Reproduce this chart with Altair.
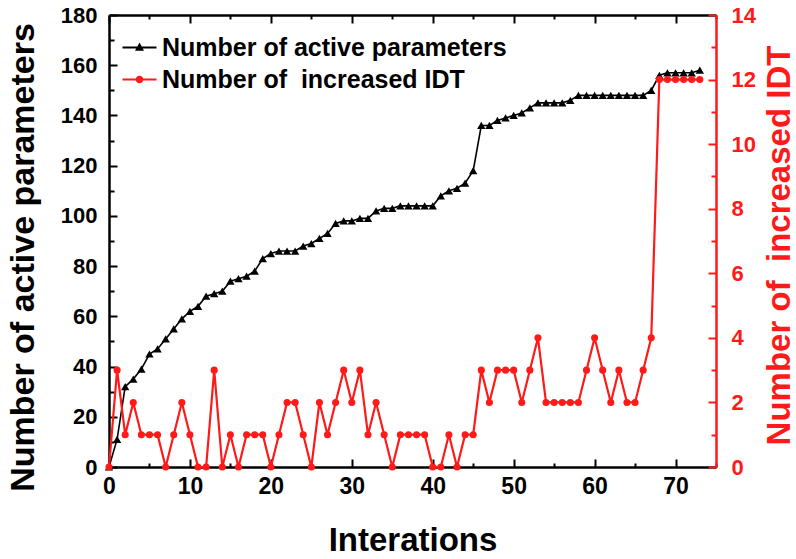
import altair as alt
import pandas as pd

iterations = list(range(74))
active_params = [0, 11, 32, 35, 39, 45, 47, 51, 55, 59, 62, 64, 68, 69, 70, 74, 75, 76, 78, 83,
                 85, 86, 86, 86, 88, 89, 91, 93, 97, 98, 98, 99, 99, 102, 103, 103, 104, 104, 104, 104,
                 104, 108, 110, 111, 113, 118, 136, 136, 138, 139, 140, 141, 143, 145, 145, 145, 145, 146, 148, 148,
                 148, 148, 148, 148, 148, 148, 148, 150, 156, 157, 157, 157, 157, 158]
increased_idt = [0, 3, 1, 2, 1, 1, 1, 0, 1, 2, 1, 0, 0, 3, 0, 1, 0, 1, 1, 1,
                 0, 1, 2, 2, 1, 0, 2, 1, 2, 3, 2, 3, 1, 2, 1, 0, 1, 1, 1, 1,
                 0, 0, 1, 0, 1, 1, 3, 2, 3, 3, 3, 2, 3, 4, 2, 2, 2, 2, 2, 3,
                 4, 3, 2, 3, 2, 2, 3, 4, 12, 12, 12, 12, 12, 12]
series_names = ["Number of active parameters", "Number of\u00a0 increased IDT"]
series_colors = ["black", "#ff1a1a"]

x_ticks = list(range(0, 80, 5))
left_ticks = list(range(0, 190, 10))
right_ticks = list(range(0, 15, 1))

df = pd.DataFrame({"iter": iterations, "active": active_params, "idt": increased_idt})

FONT = "Liberation Sans"
RED = series_colors[1]
x_scale = alt.Scale(domain=[0, 75], nice=False, zero=False)

x_axis_bottom = alt.Axis(
    values=x_ticks, labelExpr="datum.value % 10 === 0 ? datum.label : ''",
    grid=False, tickSize={"expr": "datum.value % 10 === 0 ? -8 : -4"}, tickWidth=2, tickColor="black",
    domainColor="black", domainWidth=2.5,
    labelFont=FONT, labelFontSize=23, labelFontWeight="bold", labelColor="black", labelPadding=16,
    labelFlush=False,
    title="Interations", titleFont=FONT, titleFontSize=33, titleFontWeight="bold", titleColor="black",
    titleBaseline="alphabetic", titleY=83,
)

left_axis = alt.Axis(
    values=left_ticks, labelExpr="datum.value % 20 === 0 ? datum.label : ''",
    grid=False, tickSize={"expr": "datum.value % 20 === 0 ? -8 : -5"}, tickWidth=2, tickColor="black",
    domainColor="black", domainWidth=2.5,
    labelFont=FONT, labelFontSize=22, labelFontWeight="bold", labelColor="black", labelPadding=20,
    labelFlush=False,
    title="Number of active parameters", titleFont=FONT, titleFontSize=34, titleFontWeight="bold",
    titleColor="black", titleAngle=270, titleBaseline="middle", titleAlign="center",
    titleX=-86, titleY=242,
)

right_axis = alt.Axis(
    orient="right",
    values=right_ticks, labelExpr="datum.value % 2 === 0 ? datum.label : ''",
    grid=False, tickSize={"expr": "datum.value % 2 === 0 ? -8 : -5"}, tickWidth=2, tickColor=RED,
    domainColor=RED, domainWidth=2.5,
    labelFont=FONT, labelFontSize=22, labelFontWeight="bold", labelColor=RED, labelPadding=23,
    labelFlush=False,
    title="Number of\u00a0 increased IDT", titleFont=FONT, titleFontSize=33, titleFontWeight="bold",
    titleColor=RED, titleAngle=270, titleBaseline="middle", titleAlign="center",
    titleX=63, titleY=230,
)

x_axis_top = alt.Axis(
    orient="top", values=x_ticks, labels=False, grid=False,
    tickSize={"expr": "datum.value % 10 === 0 ? -8 : -4"}, tickWidth=2,
    tickColor="black", domainColor="black", domainWidth=2.5, title=None,
)

active_layer = alt.Chart(df).mark_line(
    color="black", strokeWidth=1.6, clip=False,
    point=alt.OverlayMarkDef(shape="triangle-up", filled=True, size=70, color="black", opacity=1),
).encode(
    x=alt.X("iter:Q", scale=x_scale, axis=x_axis_bottom),
    y=alt.Y("active:Q", scale=alt.Scale(domain=[0, 180], nice=False), axis=left_axis),
)

idt_layer = alt.Chart(df).mark_line(
    color=RED, strokeWidth=2.2, clip=False,
    point=alt.OverlayMarkDef(shape="circle", filled=True, size=50, color=RED, opacity=1),
).encode(
    x=alt.X("iter:Q", scale=x_scale, axis=None),
    y=alt.Y("idt:Q", scale=alt.Scale(domain=[0, 14], nice=False), axis=right_axis),
)

tri_path = "M-1.7,-0.1H1.7V0.1H-1.7Z M0,-0.5L0.45,0.32L-0.45,0.32Z"
circ_path = "M-1.7,-0.1H1.7V0.1H-1.7Z M0.38,0A0.38,0.38,0,1,1,-0.38,0A0.38,0.38,0,1,1,0.38,0Z"

legend_def = alt.Legend(
    orient="none", legendX=18, legendY=20, title=None, padding=0,
    labelFont=FONT, labelFontSize=25, labelFontWeight="bold", labelColor="black",
    labelLimit=0, symbolSize=400, labelOffset=10, rowPadding=6, symbolStrokeWidth=0)

legend_layer = alt.Chart(alt.Data(values=[])).mark_point(filled=True, opacity=1).encode(
    x=alt.X("iter:Q", scale=x_scale, axis=x_axis_top),
    color=alt.Color("series:N", scale=alt.Scale(domain=series_names, range=series_colors),
                    legend=legend_def),
    shape=alt.Shape("series:N", scale=alt.Scale(domain=series_names, range=[tri_path, circ_path]),
                    legend=legend_def),
)

chart = alt.layer(active_layer, idt_layer, legend_layer).resolve_scale(
    y="independent"
).resolve_axis(x="independent").properties(
    width=607, height=452,
    autosize=alt.AutoSizeParams(type="none"),
    padding={"left": 109, "top": 15, "right": 80, "bottom": 92},
).configure_view(stroke=None).configure(background="white")

chart.save("out.html", embed_options={"renderer": "svg", "actions": False})
